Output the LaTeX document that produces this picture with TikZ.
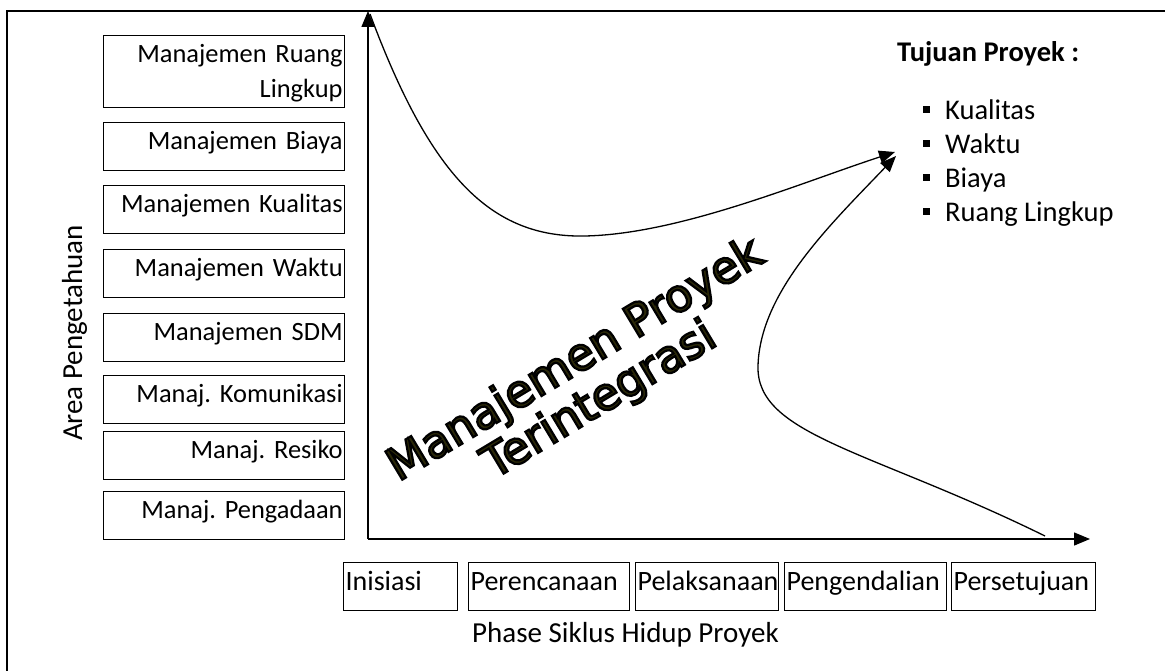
\documentclass[tikz,border=0pt]{standalone}
\usepackage{fontspec}
\setmainfont{Carlito}
\newfontfamily\wordart{DejaVu Sans}
\usetikzlibrary{arrows.meta}
\definecolor{wafill}{HTML}{2A2808}
\frenchspacing
\begin{document}
\begin{tikzpicture}[x=1pt,y=-1pt,
  txt/.style={font=\fontsize{28.5}{35}\selectfont,inner sep=0pt},
  kbox/.style={font=\fontsize{26.4}{35}\selectfont,draw,line width=1.2pt,inner xsep=2pt,inner ysep=0pt,text width=237pt,align=right,
    minimum height=48pt,text height=15pt,text depth=9pt,anchor=north west},
  pbox/.style={font=\fontsize{28}{35}\selectfont,draw,line width=1.2pt,inner xsep=2pt,inner ysep=0pt,align=left,
    minimum height=48pt,text height=16pt,text depth=8pt,anchor=north west},
  arr/.style={-{Triangle[length=16pt,width=13pt]},line width=1.4pt},
  bul/.style={fill=black,inner sep=0pt,minimum size=7pt,anchor=north west}
]
\useasboundingbox (0,0) rectangle (1165,671);
% frame
\draw[line width=1.3pt] (7,671) -- (7,11) -- (1165,11);

% knowledge area boxes
\node[kbox,minimum height=72pt,text height=20pt,text depth=38pt] (k1) at (103,35) {Manajemen Ruang\\Lingkup};
\node[kbox] (k2) at (103,122) {Manajemen Biaya};
\node[kbox] (k3) at (103,185) {Manajemen Kualitas};
\node[kbox] (k4) at (103,249) {Manajemen Waktu};
\node[kbox] (k5) at (103,313) {Manajemen SDM};
\node[kbox] (k6) at (103,375) {Manaj. Komunikasi};
\node[kbox] (k7) at (103,431) {Manaj. Resiko};
\node[kbox] (k8) at (103,491) {Manaj. Pengadaan};

\node[txt,font=\fontsize{29}{35}\selectfont,rotate=90,anchor=base] (area) at (82,333) {Area Pengetahuan};

% axes
\coordinate (o) at (368,539);
\coordinate (ytop) at (368,11);
\coordinate (xend) at (1090,539);
\draw[arr] (o) -- (ytop);
\draw[arr] (o) -- (xend);

% phase boxes
\node[pbox,text width=110pt] (p1) at (343,562) {Inisiasi};
\node[pbox,text width=157pt] (p2) at (468,562) {Perencanaan};
\node[pbox,text width=139pt] (p3) at (635,562) {Pelaksanaan};
\node[pbox,text width=158pt] (p4) at (784,562) {Pengendalian};
\node[pbox,text width=140pt] (p5) at (951,562) {Persetujuan};
\node[txt,font=\fontsize{29}{35}\selectfont,anchor=base west] (phase) at (472,642) {Phase Siklus Hidup Proyek};

% goals
\node[txt,font=\fontsize{28.5}{35}\selectfont\bfseries,anchor=base west] (goal) at (897,62) {Tujuan Proyek :};
\node[txt,anchor=base west] (g1) at (945,120) {Kualitas};
\node[txt,anchor=base west] (g2) at (945,154) {Waktu};
\node[txt,anchor=base west] (g3) at (945,188) {Biaya};
\node[txt,anchor=base west] (g4) at (945,222) {Ruang Lingkup};
\node[bul] (b1) at (923,106) {};
\node[bul] (b2) at (923,140) {};
\node[bul] (b3) at (923,174) {};
\node[bul] (b4) at (923,208) {};

% curves
\coordinate (c1s) at (370,14);
\coordinate (tip1) at (895,152);
\coordinate (c2s) at (1045,536);
\coordinate (tip2) at (896,156);
\draw[arr,line width=1.3pt] (c1s) .. controls (430,175) and (490,238) .. (585,236)
   .. controls (680,234) and (800,183) .. (tip1);
\draw[arr,line width=1.3pt] (c2s) .. controls (870,450) and (756,435) .. (758,366)
   .. controls (760,292) and (830,225) .. (tip2);

% word art
\node[rotate=31,align=center,text=wafill,font=\wordart\fontsize{45}{47}\selectfont] (wa) at (588,381)
  {\special{pdf:literal direct 2 Tr 2.2 w 0 G}Manajemen Proyek\\Terintegrasi\special{pdf:literal direct 0 Tr}};
\end{tikzpicture}
\end{document}
